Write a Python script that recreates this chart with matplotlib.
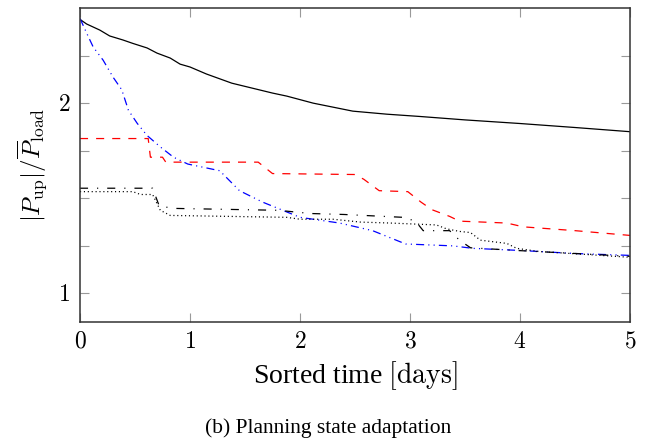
import matplotlib
matplotlib.use("Agg")
import matplotlib.pyplot as plt
from matplotlib.ticker import FixedLocator

plt.rcParams['font.family'] = ['Liberation Serif', 'DejaVu Serif']
plt.rcParams['mathtext.fontset'] = 'cm'
plt.rcParams['lines.scale_dashes'] = False

# ---- data ----
solid_x = [0, 0.06, 0.18, 0.27, 0.39, 0.48, 0.61, 0.70, 0.82, 0.91, 1.0, 1.15, 1.38,
           1.75, 1.88, 2.12, 2.48, 2.79, 3.09, 3.5, 4.0, 4.5, 5.0]
solid_y = [2.44, 2.416, 2.384, 2.353, 2.332, 2.314, 2.29, 2.263, 2.237, 2.205, 2.19, 2.153,
           2.105, 2.053, 2.037, 2.0, 1.958, 1.942, 1.93, 1.912, 1.893, 1.872, 1.85]

blue_x = [0, 0.075, 0.12, 0.21, 0.30, 0.38, 0.44, 0.52, 0.61, 0.73, 0.85, 0.98, 1.27, 1.45,
          1.66, 2.0, 2.36, 2.66, 2.96, 3.39, 3.57, 4.0, 4.5, 5.0]
blue_y = [2.445, 2.35, 2.295, 2.226, 2.137, 2.07, 1.963, 1.894, 1.83, 1.77, 1.716, 1.68,
          1.645, 1.54, 1.48, 1.40, 1.37, 1.33, 1.26, 1.25, 1.237, 1.226, 1.21, 1.20]

red_x = [0, 0.62, 0.64, 0.75, 0.78, 1.62, 1.75, 2.5, 2.58, 2.72, 2.98, 3.1, 3.2, 3.36, 3.45,
         3.88, 4.03, 4.5, 5.0]
red_y = [1.814, 1.814, 1.716, 1.716, 1.69, 1.69, 1.63, 1.625, 1.60, 1.54, 1.535, 1.48, 1.44,
         1.405, 1.38, 1.37, 1.35, 1.33, 1.305]

dd_x = [0, 0.66, 0.72, 0.85, 1.8, 2.1, 2.4, 2.94, 3.05, 3.12, 3.36, 3.45, 3.55, 4.0, 4.5, 5.0]
dd_y = [1.553, 1.553, 1.46, 1.447, 1.437, 1.42, 1.415, 1.40, 1.38, 1.33, 1.33, 1.28, 1.24,
        1.225, 1.21, 1.195]

dot_x = [0, 0.48, 0.55, 0.66, 0.73, 0.82, 1.88, 2.0, 2.3, 2.55, 2.82, 3.24, 3.33, 3.45, 3.55,
         3.64, 3.88, 3.97, 4.18, 4.6, 5.0]
dot_y = [1.535, 1.535, 1.52, 1.52, 1.437, 1.41, 1.40, 1.39, 1.39, 1.375, 1.37, 1.36, 1.34,
         1.326, 1.32, 1.28, 1.263, 1.237, 1.22, 1.205, 1.19]

x_ticks = [0, 1, 2, 3, 4, 5]
y_major = [1, 2]
y_minor = [1.25, 1.5, 1.75, 2.25]

fig = plt.figure(figsize=(6.59, 4.43), dpi=100)
ax = fig.add_axes([80/659, 1-322/443, 550/659, 314/443])

lw = 0.9
ax.plot(solid_x, solid_y, color='black', lw=lw, ls='-')
ax.plot(red_x, red_y, color='red', lw=lw, dashes=(5.8, 5.8))
ax.plot(blue_x, blue_y, color='blue', lw=lw, dashes=(5.8, 3.0, 0.8, 3.0, 0.8, 3.0))
ax.plot(dd_x, dd_y, color='black', lw=lw, dashes=(5.8, 6.5, 0.8, 6.5))
ax.plot(dot_x, dot_y, color='black', lw=lw, dashes=(0.8, 2.0))

ax.set_xlim(0, 5)
ax.set_ylim(0.85, 2.5)
ax.xaxis.set_major_locator(FixedLocator(x_ticks))
ax.yaxis.set_major_locator(FixedLocator(y_major))
ax.yaxis.set_minor_locator(FixedLocator(y_minor))
ax.set_xticklabels([f'${t}$' for t in x_ticks])
ax.set_yticklabels([f'${t}$' for t in y_major])

ax.tick_params(which='both', direction='in', top=True, right=True, length=6.5,
               width=0.8, color='#999999', labelsize=17, pad=7)
for s in ax.spines.values():
    s.set_linewidth(1.1)
    s.set_color('#333333')

ax.set_xlabel(r'Sorted time $[\mathrm{days}]$', fontsize=20, labelpad=5)
ax.set_ylabel(r'$|P_{\mathrm{up}}|/\overline{P}_{\mathrm{load}}$', fontsize=18, labelpad=6)

fig.text((200 + 456) / 2 / 659, 1 - 428/443, '(b) Planning state adaptation',
         ha='center', va='center', fontsize=15.5)

fig.savefig('out.png', dpi=100)
